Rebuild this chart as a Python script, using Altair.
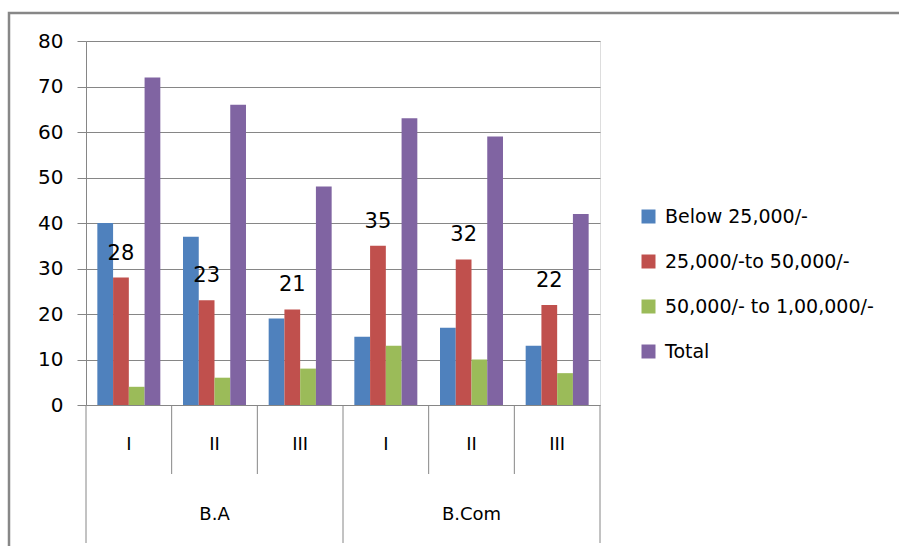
import altair as alt
import pandas as pd

# Programme / year categories on the two-level x axis
programmes = ["B.A", "B.A", "B.A", "B.Com", "B.Com", "B.Com"]
years = ["I", "II", "III", "I", "II", "III"]

# Income groups (legend order) and their colours
series = ["Below 25,000/-", "25,000/-to 50,000/-", "50,000/- to 1,00,000/-", "Total"]
colors = ["#4F81BD", "#C0504D", "#9BBB59", "#8064A2"]

# Number of students per income group
below_25k = [40, 37, 19, 15, 17, 13]
from_25k_to_50k = [28, 23, 21, 35, 32, 22]
from_50k_to_1l = [4, 6, 8, 13, 10, 7]
total = [72, 66, 48, 63, 59, 42]

keys = [f"{p}|{y}" for p, y in zip(programmes, years)]
rows = []
for s, vals in zip(series, [below_25k, from_25k_to_50k, from_50k_to_1l, total]):
    for k, p, y, v in zip(keys, programmes, years, vals):
        rows.append({"key": k, "programme": p, "year": y, "series": s, "value": v})
df = pd.DataFrame(rows)

cats = pd.DataFrame({
    "key": keys,
    "programme": programmes,
    "year": years,
    "pos": list(range(len(keys))),
})

W, H = 514, 364
GRID = "#868686"
FONT = "DejaVu Sans"

x_scale = alt.Scale(domain=keys, paddingInner=0, paddingOuter=0)
off_scale = alt.Scale(domain=series, paddingInner=0, paddingOuter=0.72)

x_enc = alt.X("key:N", scale=x_scale, axis=None)

bars = alt.Chart(df).mark_bar().encode(
    x=x_enc,
    xOffset=alt.XOffset("series:N", scale=off_scale),
    y=alt.Y(
        "value:Q",
        scale=alt.Scale(domain=[0, 80], nice=False),
        axis=alt.Axis(
            values=list(range(0, 81, 10)),
            title=None,
            grid=True,
            gridColor=GRID,
            gridWidth=1,
            domainColor=GRID,
            tickColor=GRID,
            tickSize=9,
            labelPadding=14,
            labelFont=FONT,
            labelFontSize=20,
            labelColor="black",
        ),
    ),
    color=alt.Color(
        "series:N",
        scale=alt.Scale(domain=series, range=colors),
        legend=alt.Legend(
            title=None,
            orient="none",
            legendX=553,
            legendY=166,
            padding=0,
            symbolType="square",
            symbolSize=196,
            symbolStrokeWidth=0,
            labelFont=FONT,
            labelFontSize=19,
            labelColor="black",
            labelOffset=7,
            labelLimit=320,
            rowPadding=25,
        ),
    ),
)

# Value labels on the 25,000/- to 50,000/- series
labels = alt.Chart(df).transform_filter(
    alt.datum.series == series[1]
).mark_text(dy=-24, font=FONT, fontSize=21, color="black", baseline="middle").encode(
    x=x_enc,
    xOffset=alt.XOffset("series:N", scale=off_scale),
    y=alt.Y("value:Q"),
    text=alt.Text("value:Q"),
)

# Category boundary lines below the baseline
inner_ticks = alt.Chart(cats).transform_filter(
    alt.datum.year != "I"
).mark_rule(color=GRID, strokeWidth=1).encode(
    x=alt.X("key:N", scale=x_scale, axis=None, bandPosition=0),
    y=alt.value(H),
    y2=alt.value(H + 69),
)
group_ticks = alt.Chart(cats).transform_filter(
    alt.datum.year == "I"
).mark_rule(color=GRID, strokeWidth=1).encode(
    x=alt.X("key:N", scale=x_scale, axis=None, bandPosition=0),
    y=alt.value(H),
    y2=alt.value(H + 138),
)
end_tick = alt.Chart(cats).transform_filter(
    alt.datum.pos == len(keys) - 1
).mark_rule(color=GRID, strokeWidth=1).encode(
    x=alt.X("key:N", scale=x_scale, axis=None, bandPosition=1),
    y=alt.value(H),
    y2=alt.value(H + 138),
)

year_text = alt.Chart(cats).mark_text(
    font=FONT, fontSize=18, color="black", baseline="middle"
).encode(
    x=x_enc,
    y=alt.value(H + 40),
    text="year:N",
)

group_text = alt.Chart(cats).transform_filter(
    alt.datum.year == "II"
).mark_text(font=FONT, fontSize=18, color="black", baseline="middle").encode(
    x=x_enc,
    y=alt.value(H + 110),
    text="programme:N",
)

frame = alt.Chart(pd.DataFrame({"frame": [0]})).mark_rect(
    filled=False, stroke="#878787", strokeWidth=2.5
).encode(
    x=alt.value(-77),
    x2=alt.value(840),
    y=alt.value(-28),
    y2=alt.value(530),
)

chart = alt.layer(
    bars, labels, inner_ticks, group_ticks, end_tick, year_text, group_text, frame
).properties(
    width=W,
    height=H,
    autosize=alt.AutoSizeParams(type="none"),
    padding={"left": 86, "top": 41, "right": 299, "bottom": 141},
).configure_view(stroke=None).configure(background="white")

chart.save("out.html", embed_options={"renderer": "svg", "actions": False})
